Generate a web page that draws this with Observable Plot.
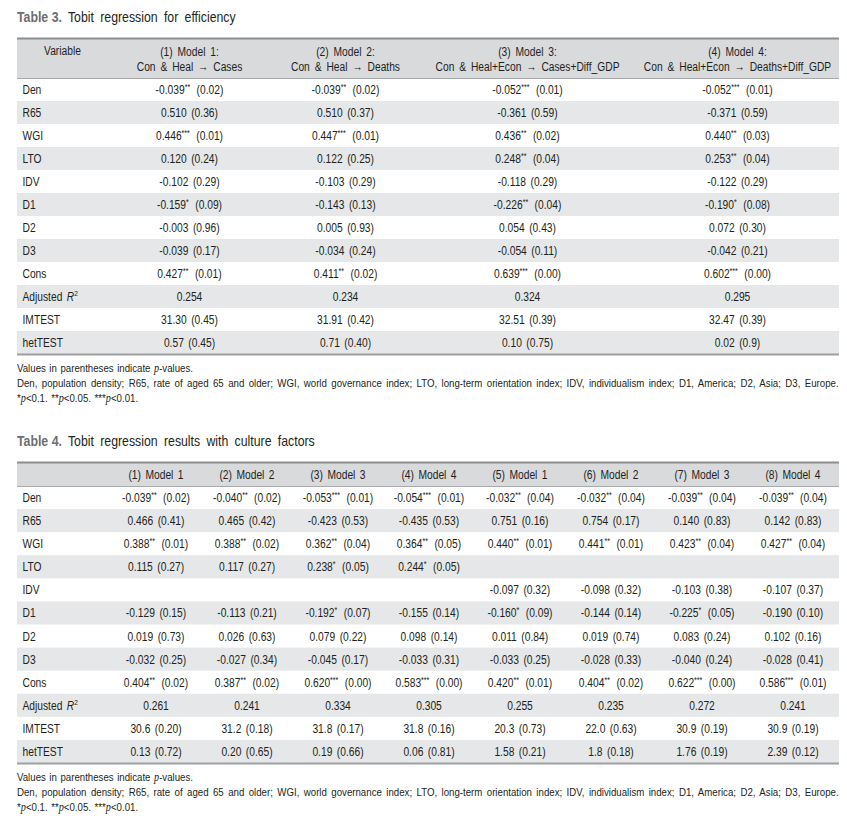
<!DOCTYPE html>
<html><head><meta charset="utf-8">
<script src="https://cdn.jsdelivr.net/npm/d3@7"></script>
<script src="https://cdn.jsdelivr.net/npm/@observablehq/plot@0.6"></script>
<style>
body{margin:0;background:#fff;width:847px;height:824px;position:relative;overflow:hidden;
 font-family:"Liberation Sans",Arial,sans-serif;color:#231f20}
.title{position:absolute;left:17px;font-size:15px;word-spacing:3.5px;line-height:20px;white-space:nowrap;transform:scaleX(0.82);transform-origin:0 50%}
.title b{color:#6d6e71;font-weight:bold;word-spacing:0}
.note{position:absolute;left:17px;width:1002px;font-size:11.8px;line-height:15px;transform:scaleX(0.82);transform-origin:0 0}
.note div{white-space:nowrap;word-spacing:1px}
.note .just{text-align:justify;text-align-last:justify;white-space:normal;height:15px;overflow:hidden;word-spacing:0}
.note i{font-family:"Liberation Serif",serif;font-size:12.5px}
.tbl{position:absolute;left:0}
</style></head><body>
<div class="title" style="top:7px"><b>Table 3.</b> Tobit regression for efficiency</div>
<div class="tbl" id="t3" style="top:36px"></div>
<div class="note" style="top:361px">
 <div>Values in parentheses indicate <i>p</i>-values.</div>
 <div class="just">Den, population density; R65, rate of aged 65 and older; WGI, world governance index; LTO, long-term orientation index; IDV, individualism index; D1, America; D2, Asia; D3, Europe.</div>
 <div>*<i>p</i>&lt;0.1. **<i>p</i>&lt;0.05. ***<i>p</i>&lt;0.01.</div>
</div>
<div class="title" style="top:431px"><b>Table 4.</b> Tobit regression results with culture factors</div>
<div class="tbl" id="t4" style="top:460px"></div>
<div class="note" style="top:770px">
 <div>Values in parentheses indicate <i>p</i>-values.</div>
 <div class="just">Den, population density; R65, rate of aged 65 and older; WGI, world governance index; LTO, long-term orientation index; IDV, individualism index; D1, America; D2, Asia; D3, Europe.</div>
 <div>*<i>p</i>&lt;0.1. **<i>p</i>&lt;0.05. ***<i>p</i>&lt;0.01.</div>
</div>
<script>
// ---------- data ----------
const rowLabels = ["Den","R65","WGI","LTO","IDV","D1","D2","D3","Cons","Adjusted R2","IMTEST","hetTEST"];

const t3Heads = ["(1) Model 1:\nCon & Heal \u2192 Cases","(2) Model 2:\nCon & Heal \u2192 Deaths",
  "(3) Model 3:\nCon & Heal+Econ \u2192 Cases+Diff_GDP","(4) Model 4:\nCon & Heal+Econ \u2192 Deaths+Diff_GDP"];
const t3Model1 = ["-0.039** (0.02)","0.510 (0.36)","0.446*** (0.01)","0.120 (0.24)","-0.102 (0.29)","-0.159* (0.09)","-0.003 (0.96)","-0.039 (0.17)","0.427** (0.01)","0.254","31.30 (0.45)","0.57 (0.45)"];
const t3Model2 = ["-0.039** (0.02)","0.510 (0.37)","0.447*** (0.01)","0.122 (0.25)","-0.103 (0.29)","-0.143 (0.13)","0.005 (0.93)","-0.034 (0.24)","0.411** (0.02)","0.234","31.91 (0.42)","0.71 (0.40)"];
const t3Model3 = ["-0.052*** (0.01)","-0.361 (0.59)","0.436** (0.02)","0.248** (0.04)","-0.118 (0.29)","-0.226** (0.04)","0.054 (0.43)","-0.054 (0.11)","0.639*** (0.00)","0.324","32.51 (0.39)","0.10 (0.75)"];
const t3Model4 = ["-0.052*** (0.01)","-0.371 (0.59)","0.440** (0.03)","0.253** (0.04)","-0.122 (0.29)","-0.190* (0.08)","0.072 (0.30)","-0.042 (0.21)","0.602*** (0.00)","0.295","32.47 (0.39)","0.02 (0.9)"];

const t4Heads = ["(1) Model 1","(2) Model 2","(3) Model 3","(4) Model 4","(5) Model 1","(6) Model 2","(7) Model 3","(8) Model 4"];
const t4Model1 = ["-0.039** (0.02)","0.466 (0.41)","0.388** (0.01)","0.115 (0.27)","","-0.129 (0.15)","0.019 (0.73)","-0.032 (0.25)","0.404** (0.02)","0.261","30.6 (0.20)","0.13 (0.72)"];
const t4Model2 = ["-0.040** (0.02)","0.465 (0.42)","0.388** (0.02)","0.117 (0.27)","","-0.113 (0.21)","0.026 (0.63)","-0.027 (0.34)","0.387** (0.02)","0.241","31.2 (0.18)","0.20 (0.65)"];
const t4Model3 = ["-0.053*** (0.01)","-0.423 (0.53)","0.362** (0.04)","0.238* (0.05)","","-0.192* (0.07)","0.079 (0.22)","-0.045 (0.17)","0.620*** (0.00)","0.334","31.8 (0.17)","0.19 (0.66)"];
const t4Model4 = ["-0.054*** (0.01)","-0.435 (0.53)","0.364** (0.05)","0.244* (0.05)","","-0.155 (0.14)","0.098 (0.14)","-0.033 (0.31)","0.583*** (0.00)","0.305","31.8 (0.16)","0.06 (0.81)"];
const t4Model5 = ["-0.032** (0.04)","0.751 (0.16)","0.440** (0.01)","","-0.097 (0.32)","-0.160* (0.09)","0.011 (0.84)","-0.033 (0.25)","0.420** (0.01)","0.255","20.3 (0.73)","1.58 (0.21)"];
const t4Model6 = ["-0.032** (0.04)","0.754 (0.17)","0.441** (0.01)","","-0.098 (0.32)","-0.144 (0.14)","0.019 (0.74)","-0.028 (0.33)","0.404** (0.02)","0.235","22.0 (0.63)","1.8 (0.18)"];
const t4Model7 = ["-0.039** (0.04)","0.140 (0.83)","0.423** (0.04)","","-0.103 (0.38)","-0.225* (0.05)","0.083 (0.24)","-0.040 (0.24)","0.622*** (0.00)","0.272","30.9 (0.19)","1.76 (0.19)"];
const t4Model8 = ["-0.039** (0.04)","0.142 (0.83)","0.427** (0.04)","","-0.107 (0.37)","-0.190 (0.10)","0.102 (0.16)","-0.028 (0.41)","0.586*** (0.01)","0.241","30.9 (0.19)","2.39 (0.12)"];

// ---------- layout / style ----------
const FONT = '"Liberation Sans",Arial,sans-serif';
const NARROW = 0.82; // condensed face: Liberation Sans squeezed horizontally
const INK = "#231f20", HEAD_BG = "#d9dadc", ALT_BG = "#e6e7e8";
const NS = "http://www.w3.org/2000/svg";

function addSpan(t, str, attrs = {}) {
  const s = document.createElementNS(NS, "tspan");
  s.textContent = str;
  for (const k in attrs) s.setAttribute(k, attrs[k]);
  t.appendChild(s);
}
function enrich(svg) {
  svg.querySelectorAll("text").forEach(t => {
    if (!t.children.length) {
      const s = t.textContent;
      const m = s.match(/^(\S*?\d)(\*+)\s+(.*)$/);
      if (m) {
        t.textContent = "";
        addSpan(t, m[1]);
        addSpan(t, m[2], {"font-size": 8.5, dy: -4});
        addSpan(t, "\u2009\u00a0" + m[3], {dy: 4});
      } else if (s === "Adjusted R2") {
        t.textContent = "";
        addSpan(t, "Adjusted\u00a0");
        addSpan(t, "R", {"font-style": "italic"});
        addSpan(t, "2", {"font-size": 8, dy: -5});
      } else {
        t.textContent = s.replace(/ /g, "\u00a0");
      }
    } else {
      t.setAttribute("word-spacing", "2.5px");
    }
    const x = +(t.getAttribute("x") || 0);
    t.removeAttribute("x");
    const old = t.getAttribute("transform") || "";
    t.setAttribute("transform", `${old} translate(${x},0) scale(${NARROW},1)`);
  });
  return svg;
}

function table({heads, cols, rowPx, headPx, height, x, headerText}) {
  const H = headPx / rowPx, n = rowLabels.length;
  const cells = cols.flatMap((col, j) => col.map((text, i) => ({col: j, row: i, text})));
  const alt = rowLabels.map((d, i) => i).filter(i => i % 2 === 1);
  return Plot.plot({
    width: 847, height,
    marginLeft: 17, marginRight: 8, marginTop: 2, marginBottom: 3,
    style: {fontFamily: FONT, fontSize: "12.5px", color: INK, background: "transparent", wordSpacing: "2px"},
    x,
    y: {domain: [0, H + n], reverse: true, axis: null},
    marks: [
      Plot.rect([0], {y1: 0, y2: H, fill: HEAD_BG}),
      Plot.rect(alt, {y1: d => H + d, y2: d => H + d + 1, fill: ALT_BG}),
      Plot.ruleY([0], {stroke: "#8a8c8f", strokeWidth: 2}),
      Plot.ruleY([H], {stroke: "#a7a9ac", strokeWidth: 1}),
      Plot.ruleY([H + n], {stroke: "#9d9fa2", strokeWidth: 2}),
      ...headerText(H, heads),
      Plot.text(rowLabels, {frameAnchor: "left", dx: 5, y: (d, i) => H + i + 0.5, text: d => d, textAnchor: "start", fill: INK, fontSize: 12.5}),
      Plot.text(cells.filter(d => d.text), {x: d => x.domain[d.col + (x.type === "band" ? 0 : 1)], y: d => H + d.row + 0.5, text: "text", fill: INK, fontSize: 12.5})
    ]
  });
}

// Table 3: uneven column widths (label column + 4 model columns)
const t3ColWidths = [90, 164, 148, 216, 204];
const t3Edges = d3.cumsum([17, ...t3ColWidths]);
const t3Centers = t3ColWidths.map((w, i) => t3Edges[i] + w / 2);
const t3 = table({
  heads: t3Heads, cols: [t3Model1, t3Model2, t3Model3, t3Model4],
  rowPx: 23, headPx: 40, height: 321,
  x: {type: "linear", domain: [0, 1, 2, 3, 4], range: t3Centers, axis: null},
  headerText: (H, heads) => [
    Plot.text(heads, {x: (d, i) => i + 1, y: H / 2, text: d => d, lineHeight: 1.2, fill: INK, fontSize: 12.5}),
    Plot.text(["Variable"], {x: 0, y: H / 2 - 7.5 / 23, text: d => d, fill: INK, fontSize: 12.5})
  ]
});
document.getElementById("t3").appendChild(enrich(t3));

// Table 4: label column + 8 equal model columns
const t4 = table({
  heads: t4Heads, cols: [t4Model1, t4Model2, t4Model3, t4Model4, t4Model5, t4Model6, t4Model7, t4Model8],
  rowPx: 23.1, headPx: 24, height: 306,
  x: {type: "band", domain: t4Heads, range: [110, 838], padding: 0, axis: null},
  headerText: (H, heads) => [
    Plot.text(heads, {x: d => d, y: H / 2, text: d => d, fill: INK, fontSize: 12.5})
  ]
});
document.getElementById("t4").appendChild(enrich(t4));
</script>
</body></html>
